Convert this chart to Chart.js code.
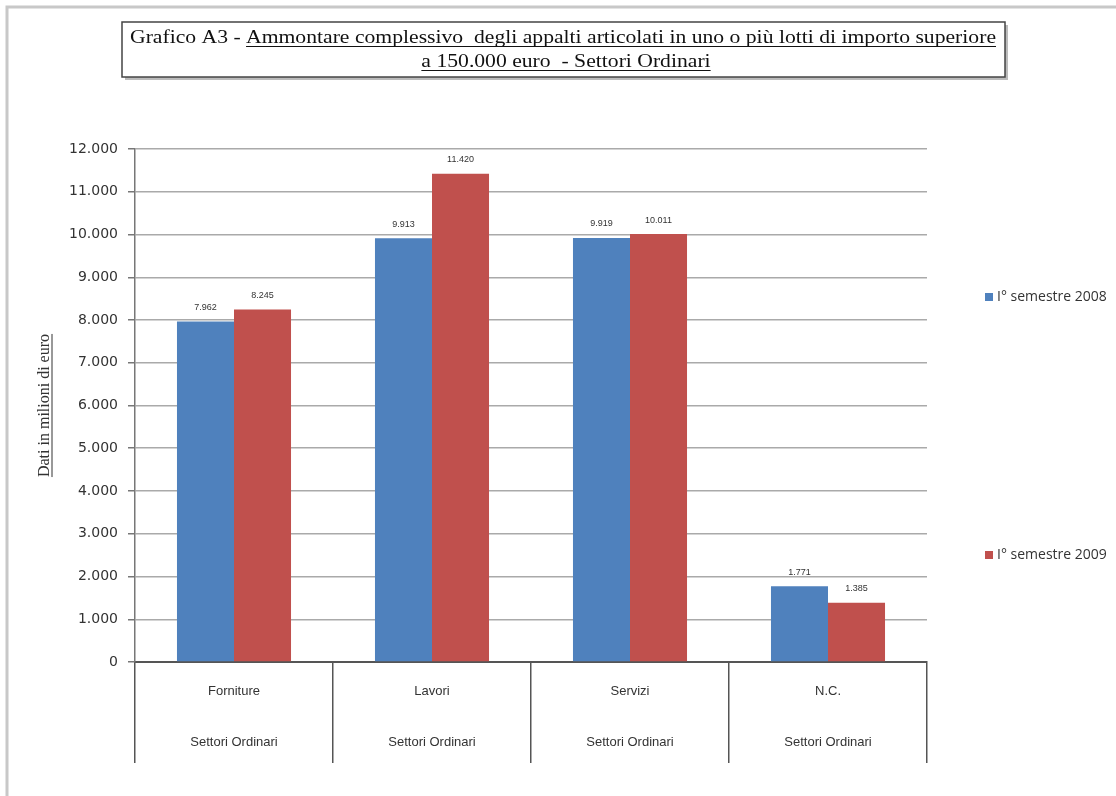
<!DOCTYPE html>
<html lang="it">
<head>
<meta charset="utf-8"/>
<title>Grafico A3</title>
<script src="https://cdn.jsdelivr.net/npm/chart.js"></script>
<style>
  html, body { margin: 0; padding: 0; background: #fff; }
  #wrap { width: 1116px; height: 796px; position: relative; }
</style>
</head>
<body>
<div id="wrap"><canvas id="chart" width="1116" height="796"></canvas></div>
<script>
// data
const categories = ['Forniture', 'Lavori', 'Servizi', 'N.C.'];
const subLabel = 'Settori Ordinari';
const seriesNames = ['I° semestre 2008', 'I° semestre 2009'];
const values2008 = [7962, 9913, 9919, 1771];
const values2009 = [8245, 11420, 10011, 1385];
const yTicks = [0, 1000, 2000, 3000, 4000, 5000, 6000, 7000, 8000, 9000, 10000, 11000, 12000];

const titleLead = 'Grafico A3 - ';
const titleLine1 = 'Ammontare complessivo  degli appalti articolati in uno o più lotti di importo superiore';
const titleLine2 = 'a 150.000 euro  - Settori Ordinari';
const yTitle = 'Dati in milioni di euro';

const BLUE = '#4f81bd';
const RED = '#c0504d';

function fmt(v) {
  return String(v).replace(/\B(?=(\d{3})+(?!\d))/g, '.');
}

// frame, title box, axis title, legend and value labels
const decor = {
  id: 'decor',
  beforeDraw(chart) {
    const ctx = chart.ctx;
    ctx.save();
    ctx.fillStyle = '#fff';
    ctx.fillRect(0, 0, chart.width, chart.height);
    ctx.strokeStyle = '#c8c8c8';
    ctx.lineWidth = 3;
    ctx.beginPath();
    ctx.moveTo(7, chart.height + 5);
    ctx.lineTo(7, 7);
    ctx.lineTo(chart.width + 5, 7);
    ctx.stroke();
    ctx.restore();
  },
  afterDraw(chart) {
    const ctx = chart.ctx;
    ctx.save();

    // title box
    ctx.fillStyle = '#bbb';
    ctx.fillRect(125, 25, 883, 55);
    ctx.fillStyle = '#fff';
    ctx.fillRect(122, 22, 883, 55);
    ctx.strokeStyle = '#444';
    ctx.lineWidth = 1.5;
    ctx.strokeRect(122, 22, 883, 55);

    ctx.fillStyle = '#111';
    ctx.strokeStyle = '#111';
    ctx.lineWidth = 1;
    ctx.font = '18px "Liberation Serif", "Times New Roman", serif';
    ctx.textBaseline = 'alphabetic';
    ctx.textAlign = 'left';
    const leadW = ctx.measureText(titleLead).width;
    const l1W = ctx.measureText(titleLine1).width;
    const sx = 866 / (leadW + l1W);
    ctx.save();
    ctx.translate(130, 43);
    ctx.scale(sx, 1);
    ctx.fillText(titleLead, 0, 0);
    ctx.fillText(titleLine1, leadW, 0);
    ctx.beginPath();
    ctx.moveTo(leadW, 3.5);
    ctx.lineTo(leadW + l1W, 3.5);
    ctx.stroke();
    ctx.restore();

    const l2W = ctx.measureText(titleLine2).width;
    ctx.save();
    ctx.translate(566 - (l2W * sx) / 2, 67);
    ctx.scale(sx, 1);
    ctx.fillText(titleLine2, 0, 0);
    ctx.beginPath();
    ctx.moveTo(0, 3.5);
    ctx.lineTo(l2W, 3.5);
    ctx.stroke();
    ctx.restore();

    // y axis title
    const area = chart.chartArea;
    ctx.save();
    ctx.translate(45, (area.top + area.bottom) / 2);
    ctx.rotate(-Math.PI / 2);
    ctx.font = '16px "Liberation Serif", "Times New Roman", serif';
    ctx.fillStyle = '#333';
    ctx.strokeStyle = '#333';
    ctx.textAlign = 'center';
    ctx.textBaseline = 'middle';
    ctx.fillText(yTitle, 0, 0);
    const tw = ctx.measureText(yTitle).width;
    ctx.beginPath();
    ctx.moveTo(-tw / 2, 7);
    ctx.lineTo(tw / 2, 7);
    ctx.stroke();
    ctx.restore();

    // value labels above the bars
    ctx.font = '9px "Liberation Sans", Arial, sans-serif';
    ctx.fillStyle = '#333';
    ctx.textAlign = 'center';
    ctx.textBaseline = 'middle';
    chart.data.datasets.forEach((ds, di) => {
      chart.getDatasetMeta(di).data.forEach((bar, i) => {
        ctx.fillText(fmt(ds.data[i]), bar.x, bar.y - 14);
      });
    });

    // legend
    const legendY = [297, 555];
    ctx.font = '14px "Open Sans", "DejaVu Sans", sans-serif';
    ctx.textAlign = 'left';
    ctx.textBaseline = 'middle';
    chart.data.datasets.forEach((ds, di) => {
      ctx.fillStyle = ds.backgroundColor;
      ctx.fillRect(985, legendY[di] - 4, 8, 8);
      ctx.fillStyle = '#333';
      ctx.fillText(ds.label, 997, legendY[di]);
    });

    ctx.restore();
  }
};

new Chart(document.getElementById('chart'), {
  type: 'bar',
  data: {
    labels: categories.map(c => [c, subLabel]),
    datasets: [
      { label: seriesNames[0], data: values2008, backgroundColor: BLUE },
      { label: seriesNames[1], data: values2009, backgroundColor: RED }
    ]
  },
  options: {
    responsive: false,
    animation: false,
    devicePixelRatio: 1,
    layout: { padding: { top: 149, right: 189, bottom: 31, left: 0 } },
    datasets: {
      bar: { categoryPercentage: 0.576, barPercentage: 1.0 }
    },
    plugins: {
      legend: { display: false },
      tooltip: { enabled: false }
    },
    scales: {
      x: {
        afterFit(scale) { scale.height = 103; },
        grid: {
          offset: true,
          drawOnChartArea: false,
          drawTicks: true,
          tickLength: 101,
          color: '#555',
          lineWidth: 1.5
        },
        border: { display: true, color: '#555', width: 2 },
        ticks: {
          padding: -97,
          maxRotation: 0,
          color: '#333',
          font: { family: '"Liberation Sans Narrow", "Liberation Sans", Arial, sans-serif', size: 13, lineHeight: '51px' }
        }
      },
      y: {
        min: yTicks[0],
        max: yTicks[yTicks.length - 1],
        afterFit(scale) { scale.width = 135; },
        afterBuildTicks(scale) { scale.ticks = yTicks.map(v => ({ value: v })); },
        grid: {
          color: '#aaa',
          lineWidth: 1.5,
          tickLength: 7,
          tickColor: '#777'
        },
        border: { display: true, color: '#777', width: 1.5 },
        ticks: {
          padding: 10,
          color: '#333',
          font: { family: '"DejaVu Sans", Verdana, sans-serif', size: 14 },
          callback: v => fmt(v)
        }
      }
    }
  },
  plugins: [decor]
});
</script>
</body>
</html>
